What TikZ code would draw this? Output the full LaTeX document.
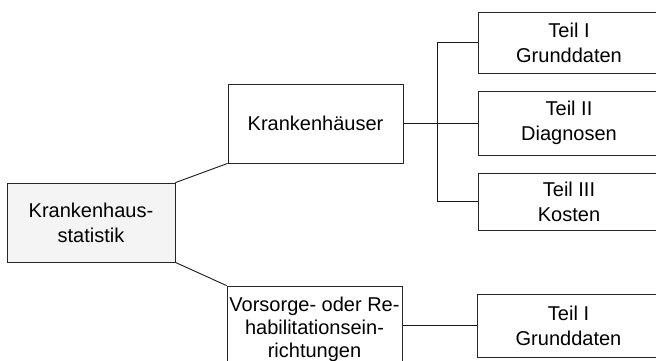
\documentclass[tikz,border=0pt]{standalone}
\usepackage{fontspec}
\setmainfont{Liberation Sans}
\begin{document}
\begin{tikzpicture}[x=1pt,y=-1pt,
  every node/.style={font=\fontsize{20}{25}\selectfont, align=center, inner sep=0pt},
  box/.style={draw=black!85, line width=0.8pt, rectangle},
  link/.style={draw=black!90, line width=0.9pt}]
\useasboundingbox (0,0) rectangle (656,360);

% root and second level
\node[box, fill=gray!9, minimum width=168pt, minimum height=79pt] (ks) at (91,222.5) {Krankenhaus-\\statistik};
\node[box, minimum width=175pt, minimum height=79pt] (kh) at (315.5,123.5) {Krankenh\"auser};
\node[box, minimum width=175pt, minimum height=86pt, font=\fontsize{20}{23}\selectfont] (vr) at (314.5,329) {Vorsorge- oder Re-\\habilitationsein-\\richtungen};

% parts
\node[box, minimum width=182pt, minimum height=61pt] (t1) at (569,42.5) {Teil I\\Grunddaten};
\node[box, minimum width=182pt, minimum height=64pt] (t2) at (569,123) {Teil II\\Diagnosen};
\node[box, minimum width=182pt, minimum height=57pt] (t3) at (569,201.5) {Teil III\\Kosten};
\node[box, minimum width=183pt, minimum height=63pt] (t4) at (568.5,325.5) {Teil I\\Grunddaten};

% connectors
\draw[link] (ks.north east) -- (kh.south west);
\draw[link] (ks.south east) -- (vr.north west);

\coordinate (j) at (437,123.5);
\draw[link] (kh.east) -- (j);
\draw[link] (j |- t1.west) -- (j |- t3.west);
\draw[link] (j |- t1.west) -- (t1.west);
\draw[link] (j |- t2.west) -- (t2.west);
\draw[link] (j |- t3.west) -- (t3.west);
\draw[link] (vr.east |- t4.west) -- (t4.west);
\end{tikzpicture}
\end{document}
